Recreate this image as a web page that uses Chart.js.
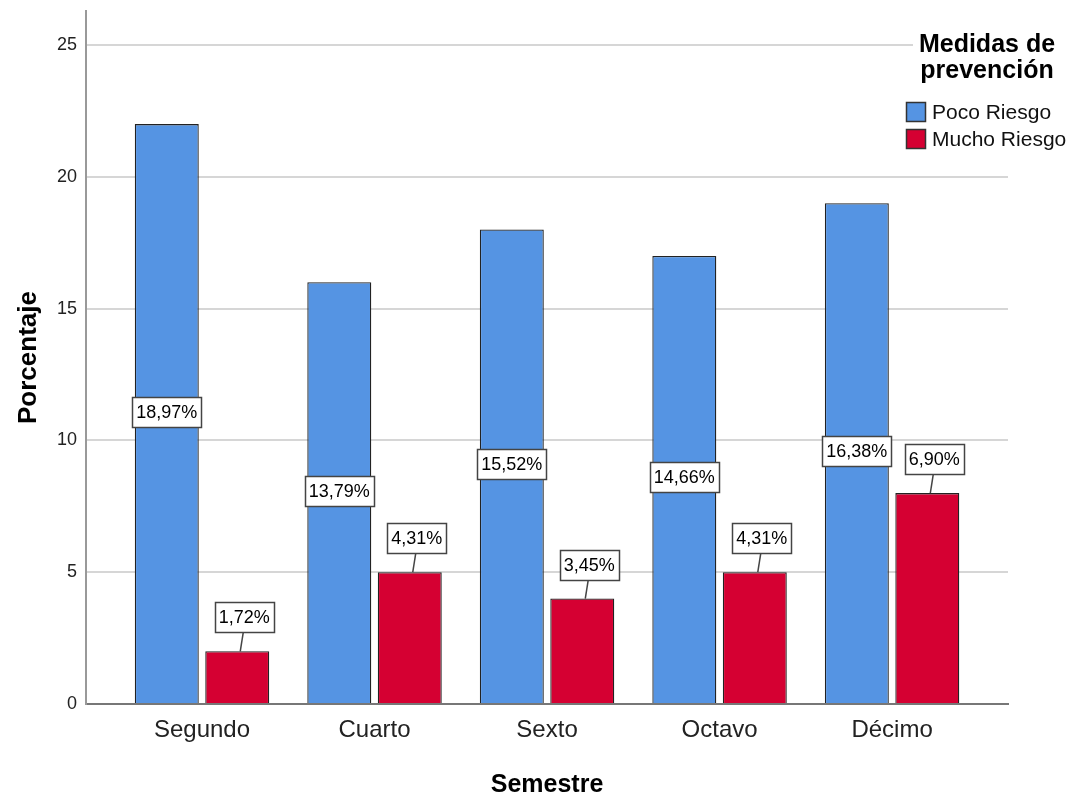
<!DOCTYPE html>
<html>
<head>
<meta charset="utf-8">
<script src="https://cdn.jsdelivr.net/npm/chart.js@4.4.1/dist/chart.umd.min.js"></script>
<style>
  html, body { margin: 0; padding: 0; background: #ffffff; }
  #wrap { width: 1072px; height: 800px; }
</style>
</head>
<body>
<div id="wrap"><canvas id="c" width="1072" height="800"></canvas></div>
<script>
const categories = ['Segundo', 'Cuarto', 'Sexto', 'Octavo', 'Décimo'];
const seriesNames = ['Poco Riesgo', 'Mucho Riesgo'];
const pocoRiesgo = [22, 16, 18, 17, 19];
const muchoRiesgo = [2, 5, 4, 5, 8];
const pocoPct = [18.97, 13.79, 15.52, 14.66, 16.38];
const muchoPct = [1.72, 4.31, 3.45, 4.31, 6.90];
const yTicks = [0, 5, 10, 15, 20, 25];
const legendTitle = ['Medidas de', 'prevención'];
const xTitle = 'Semestre';
const yTitle = 'Porcentaje';

const FONT = '"Liberation Sans", Arial, sans-serif';
const BLUE = '#5594E3';
const RED = '#D50032';

function fmtPct(v) { return v.toFixed(2).replace('.', ',') + '%'; }

const labelPlugin = {
  id: 'barLabels',
  afterDatasetsDraw(chart) {
    const ctx = chart.ctx;
    ctx.save();
    ctx.font = '18px ' + FONT;
    ctx.textAlign = 'center';
    ctx.textBaseline = 'middle';
    const pcts = [pocoPct, muchoPct];
    chart.data.datasets.forEach((ds, di) => {
      const meta = chart.getDatasetMeta(di);
      meta.data.forEach((bar, i) => {
        const txt = fmtPct(pcts[di][i]);
        const tw = ctx.measureText(txt).width;
        const bw = Math.round(tw + 8), bh = 30;
        let cx, cy;
        if (di === 0) {
          cx = bar.x;
          cy = (bar.y + bar.base) / 2 - 2;
        } else {
          cx = bar.x + 7;
          const bottom = bar.y - 19;
          cy = bottom - bh / 2;
          ctx.strokeStyle = '#444';
          ctx.lineWidth = 1.5;
          ctx.beginPath();
          ctx.moveTo(bar.x + 6, bottom);
          ctx.lineTo(bar.x + 3, bar.y);
          ctx.stroke();
        }
        const x0 = Math.round(cx - bw / 2) + 0.5, y0 = Math.round(cy - bh / 2) + 0.5;
        ctx.fillStyle = '#ffffff';
        ctx.fillRect(x0, y0, bw, bh);
        ctx.strokeStyle = '#444';
        ctx.lineWidth = 1.5;
        ctx.strokeRect(x0, y0, bw, bh);
        ctx.fillStyle = '#000';
        ctx.fillText(txt, cx, cy + 1);
      });
    });
    ctx.restore();
  }
};

const legendPlugin = {
  id: 'customLegend',
  afterDraw(chart) {
    const ctx = chart.ctx;
    ctx.save();
    ctx.fillStyle = '#ffffff';
    ctx.fillRect(913, 0, 159, 160);
    ctx.fillStyle = '#000';
    ctx.font = 'bold 25px ' + FONT;
    ctx.textAlign = 'center';
    ctx.textBaseline = 'alphabetic';
    ctx.fillText(legendTitle[0], 987, 52);
    ctx.fillText(legendTitle[1], 987, 78);
    const colors = [BLUE, RED];
    const ys = [102, 129];
    ctx.font = '21px ' + FONT;
    ctx.textAlign = 'left';
    ctx.textBaseline = 'middle';
    seriesNames.forEach((n, i) => {
      ctx.fillStyle = colors[i];
      ctx.fillRect(906, ys[i], 20, 20);
      ctx.strokeStyle = '#333';
      ctx.lineWidth = 1.5;
      ctx.strokeRect(906.5, ys[i] + 0.5, 19, 19);
      ctx.fillStyle = '#111';
      ctx.fillText(n, 932, ys[i] + 11);
    });
    ctx.restore();
  }
};

new Chart(document.getElementById('c'), {
  type: 'bar',
  data: {
    datasets: [
      { label: seriesNames[0], data: pocoRiesgo.map((v, i) => ({ x: i, y: v })), backgroundColor: BLUE, borderColor: '#222', borderWidth: 1.3 },
      { label: seriesNames[1], data: muchoRiesgo.map((v, i) => ({ x: i, y: v })), backgroundColor: RED, borderColor: '#222', borderWidth: 1.3 }
    ]
  },
  options: {
    responsive: false,
    animation: false,
    devicePixelRatio: 1,
    categoryPercentage: 0.817,
    barPercentage: 0.908,
    layout: { padding: { top: 11, right: 64, left: 0, bottom: 0 } },
    plugins: { legend: { display: false }, tooltip: { enabled: false } },
    scales: {
      x: {
        type: 'linear',
        offset: false,
        min: -0.6725,
        max: 4.672,
        afterBuildTicks(scale) { scale.ticks = categories.map((c, i) => ({ value: i })); },
        afterFit(scale) { scale.height = 96; scale.paddingLeft = 0; scale.paddingRight = 0; },
        grid: { display: false, drawTicks: false, tickLength: 0, offset: false },
        border: { display: true, color: '#777', width: 2 },
        ticks: {
          padding: 12,
          color: '#222',
          font: { family: FONT, size: 24 },
          callback: (v) => categories[v] !== undefined ? categories[v] : ''
        },
        title: {
          display: true, text: xTitle, color: '#000',
          font: { family: FONT, size: 25, weight: 'bold', lineHeight: 1 },
          padding: { top: 0, bottom: 2 }
        }
      },
      y: {
        min: 0,
        max: 26.29,
        afterBuildTicks(scale) { scale.ticks = yTicks.map(v => ({ value: v })); },
        afterFit(scale) { scale.width = 86; scale.paddingTop = 0; scale.paddingBottom = 0; },
        grid: { color: '#d6d6d6', lineWidth: 2, drawTicks: false, tickLength: 0 },
        border: { display: true, color: '#999', width: 2 },
        ticks: { padding: 9, color: '#222', font: { family: FONT, size: 18 } },
        title: {
          display: true, text: yTitle, color: '#000',
          font: { family: FONT, size: 26, weight: 'bold', lineHeight: 1 },
          padding: { top: 16, bottom: 0 }
        }
      }
    }
  },
  plugins: [labelPlugin, legendPlugin]
});
</script>
</body>
</html>
